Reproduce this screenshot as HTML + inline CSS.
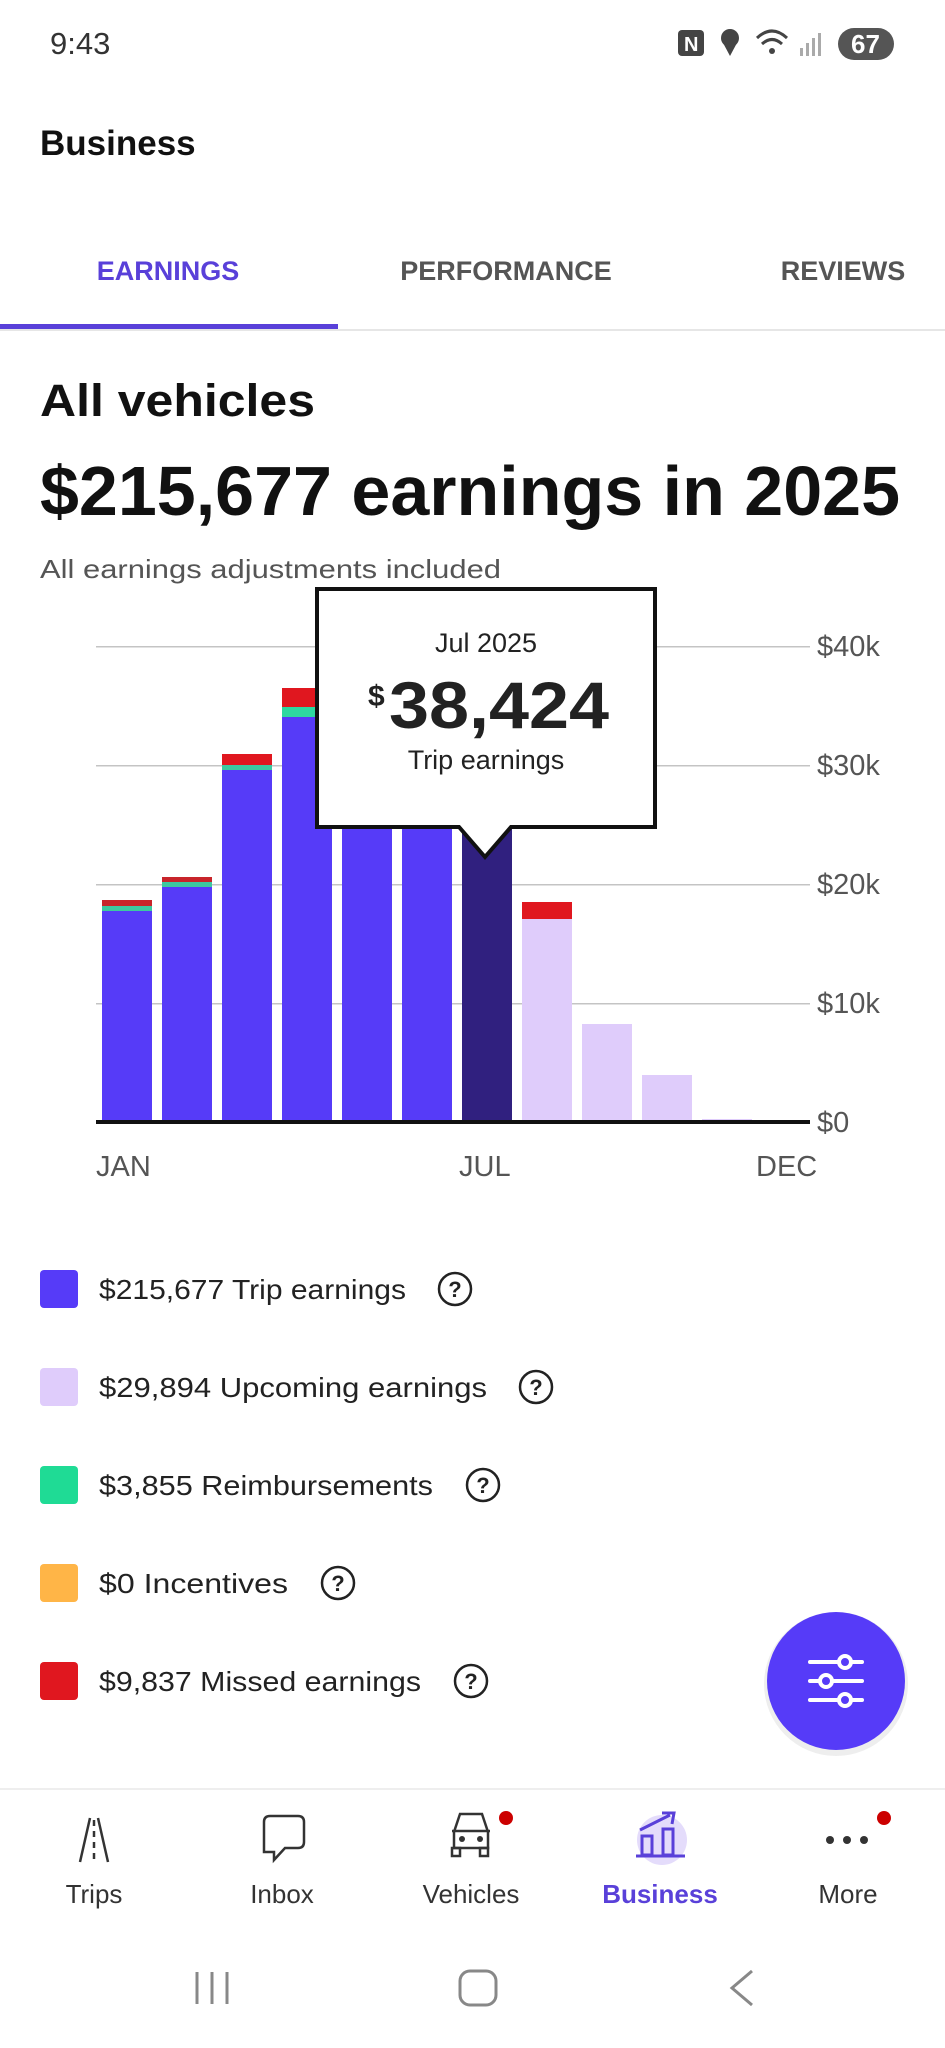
<!DOCTYPE html>
<html><head><meta charset="utf-8"><style>
html,body{margin:0;padding:0;background:#fff}
svg{display:block}
text{font-family:"Liberation Sans",sans-serif}
</style></head><body>
<svg width="945" height="2048" viewBox="0 0 945 2048" xmlns="http://www.w3.org/2000/svg">
<rect width="945" height="2048" fill="#fff"/>
<!-- status bar -->
<text x="50" y="54" font-size="31" fill="#333">9:43</text>
<g fill="#444">
<rect x="678" y="30" width="26" height="26" rx="4"/>
<text x="684" y="51" font-size="20" font-weight="bold" fill="#fff">N</text>
<circle cx="730" cy="38" r="9"/><path d="M722,41 L730,56 L738,41Z"/>
<path d="M757,38 q15,-14 30,0" stroke="#444" stroke-width="3" fill="none"/>
<path d="M762,44 q10,-9 20,0" stroke="#444" stroke-width="3" fill="none"/>
<circle cx="772" cy="51" r="3"/>
<rect x="800" y="48" width="3" height="8" fill="#aaa"/><rect x="806" y="43" width="3" height="13" fill="#aaa"/><rect x="812" y="38" width="3" height="18" fill="#aaa"/><rect x="818" y="33" width="3" height="23" fill="#aaa"/>
<rect x="838" y="28" width="56" height="32" rx="16" fill="#555"/>
</g>
<text x="851" y="53" font-size="26" font-weight="bold" fill="#fff">67</text>
<!-- header -->
<text x="40" y="155" font-size="35" font-weight="bold" fill="#111">Business</text>
<text x="168" y="280" font-size="27" font-weight="bold" fill="#5940D9" text-anchor="middle">EARNINGS</text>
<text x="506" y="280" font-size="27" font-weight="bold" fill="#555" text-anchor="middle">PERFORMANCE</text>
<text x="843" y="280" font-size="27" font-weight="bold" fill="#555" text-anchor="middle">REVIEWS</text>
<rect x="0" y="329" width="945" height="2" fill="#e6e6e6"/>
<rect x="0" y="324" width="338" height="5" fill="#5940D9"/>
<text x="40" y="416" font-size="45" font-weight="bold" fill="#111" textLength="275" lengthAdjust="spacingAndGlyphs">All vehicles</text>
<text x="40" y="515" font-size="70" font-weight="bold" fill="#111" textLength="860" lengthAdjust="spacingAndGlyphs">$215,677 earnings in 2025</text>
<text x="40" y="578" font-size="26" fill="#555" textLength="461" lengthAdjust="spacingAndGlyphs">All earnings adjustments included</text>
<!-- grid -->
<g fill="#c4c4c4">
<rect x="96" y="646" width="714" height="1.5"/>
<rect x="96" y="765" width="714" height="1.5"/>
<rect x="96" y="884" width="714" height="1.5"/>
<rect x="96" y="1003" width="714" height="1.5"/>
</g>
<g font-size="29" fill="#555">
<text x="817" y="656">$40k</text>
<text x="817" y="775">$30k</text>
<text x="817" y="894">$20k</text>
<text x="817" y="1013">$10k</text>
<text x="817" y="1132">$0</text>
</g>
<!-- bars -->
<g>
<rect x="102" y="900" width="50" height="6" fill="#C8242A"/><rect x="102" y="906" width="50" height="5" fill="#3CC9A0"/><rect x="102" y="911" width="50" height="211" fill="#563BF8"/>
<rect x="162" y="877" width="50" height="5" fill="#C8242A"/><rect x="162" y="882" width="50" height="5" fill="#3CC9A0"/><rect x="162" y="887" width="50" height="235" fill="#563BF8"/>
<rect x="222" y="754" width="50" height="11" fill="#E0171F"/><rect x="222" y="765" width="50" height="5" fill="#3CC9A0"/><rect x="222" y="770" width="50" height="352" fill="#563BF8"/>
<rect x="282" y="688" width="50" height="19" fill="#E0171F"/><rect x="282" y="707" width="50" height="10" fill="#2ED8A0"/><rect x="282" y="717" width="50" height="405" fill="#563BF8"/>
<rect x="342" y="690" width="50" height="432" fill="#563BF8"/>
<rect x="402" y="690" width="50" height="432" fill="#563BF8"/>
<rect x="462" y="665" width="50" height="457" fill="#30207F"/>
<rect x="522" y="902" width="50" height="17" fill="#E0171F"/><rect x="522" y="919" width="50" height="203" fill="#DFCCFB"/>
<rect x="582" y="1024" width="50" height="98" fill="#DFCCFB"/>
<rect x="642" y="1075" width="50" height="47" fill="#DFCCFB"/>
<rect x="702" y="1119" width="50" height="3" fill="#DFCCFB"/>
</g>
<rect x="96" y="1120" width="714" height="4" fill="#111"/>
<g font-size="29" fill="#555">
<text x="96" y="1176">JAN</text>
<text x="459" y="1176">JUL</text>
<text x="756" y="1176">DEC</text>
</g>
<!-- tooltip -->
<path d="M317,589 L655,589 L655,827 L511,827 L485,857 L459,827 L317,827 Z" fill="#fff" stroke="#111" stroke-width="4"/>
<text x="486" y="652" font-size="27" fill="#222" text-anchor="middle">Jul 2025</text>
<text x="368" y="706" font-size="30" font-weight="bold" fill="#222">$</text>
<text x="389" y="728" font-size="66" font-weight="bold" fill="#222" textLength="220" lengthAdjust="spacingAndGlyphs">38,424</text>
<text x="486" y="769" font-size="27" fill="#222" text-anchor="middle">Trip earnings</text>
<!-- legend -->
<g font-size="28" fill="#222">
<rect x="40" y="1270" width="38" height="38" rx="4" fill="#563BF8"/>
<text x="99" y="1299" textLength="307" lengthAdjust="spacingAndGlyphs">$215,677 Trip earnings</text>
<rect x="40" y="1368" width="38" height="38" rx="4" fill="#DFCCFB"/>
<text x="99" y="1397" textLength="388" lengthAdjust="spacingAndGlyphs">$29,894 Upcoming earnings</text>
<rect x="40" y="1466" width="38" height="38" rx="4" fill="#1FDB95"/>
<text x="99" y="1495" textLength="334" lengthAdjust="spacingAndGlyphs">$3,855 Reimbursements</text>
<rect x="40" y="1564" width="38" height="38" rx="4" fill="#FFB547"/>
<text x="99" y="1593" textLength="189" lengthAdjust="spacingAndGlyphs">$0 Incentives</text>
<rect x="40" y="1662" width="38" height="38" rx="4" fill="#E0171F"/>
<text x="99" y="1691" textLength="322" lengthAdjust="spacingAndGlyphs">$9,837 Missed earnings</text>
</g>
<g fill="none" stroke="#222" stroke-width="2.5">
<circle cx="455" cy="1289" r="16"/><circle cx="536" cy="1387" r="16"/><circle cx="483" cy="1485" r="16"/><circle cx="338" cy="1583" r="16"/><circle cx="471" cy="1681" r="16"/>
</g>
<g font-size="22" font-weight="bold" fill="#222" text-anchor="middle">
<text x="455" y="1297">?</text><text x="536" y="1395">?</text><text x="483" y="1493">?</text><text x="338" y="1591">?</text><text x="471" y="1689">?</text>
</g>
<!-- FAB -->
<circle cx="836" cy="1684" r="72" fill="#ddd" opacity="0.5"/>
<circle cx="836" cy="1681" r="69" fill="#563BF8"/>
<g stroke="#fff" stroke-width="4" fill="none" stroke-linecap="round">
<line x1="810" y1="1662" x2="862" y2="1662"/><line x1="810" y1="1681" x2="862" y2="1681"/><line x1="810" y1="1700" x2="862" y2="1700"/>
<circle cx="845" cy="1662" r="6" fill="#563BF8"/><circle cx="826" cy="1681" r="6" fill="#563BF8"/><circle cx="845" cy="1700" r="6" fill="#563BF8"/>
</g>
<!-- bottom nav -->
<rect x="0" y="1788" width="945" height="2" fill="#eee"/>
<g stroke="#333" stroke-width="2.5" fill="none">
<line x1="80" y1="1862" x2="90" y2="1818"/><line x1="108" y1="1862" x2="98" y2="1818"/><line x1="94" y1="1820" x2="94" y2="1860" stroke-dasharray="6,5"/>
<path d="M264,1852 L264,1822 Q264,1816 270,1816 L298,1816 Q304,1816 304,1822 L304,1842 Q304,1848 298,1848 L285,1848 L274,1860 L274,1852 Z"/>
<path d="M454,1848 L454,1832 L460,1814 L482,1814 L488,1832 L488,1848 Z"/><line x1="452" y1="1831" x2="490" y2="1831"/>
<rect x="452" y="1848" width="8" height="8"/><rect x="480" y="1848" width="8" height="8"/>
</g>
<circle cx="462" cy="1839" r="3" fill="#333"/><circle cx="480" cy="1839" r="3" fill="#333"/>
<circle cx="506" cy="1818" r="7" fill="#C00"/>
<circle cx="662" cy="1840" r="25" fill="#E4DCFB"/>
<g stroke="#5940D9" stroke-width="3" fill="none">
<line x1="636" y1="1856" x2="685" y2="1856"/><rect x="642" y="1836" width="10" height="19"/><rect x="663" y="1829" width="10" height="26"/>
<path d="M640,1830 L670,1815 M662,1813 L674,1813 L672,1824"/>
</g>
<circle cx="830" cy="1840" r="4" fill="#333"/><circle cx="847" cy="1840" r="4" fill="#333"/><circle cx="864" cy="1840" r="4" fill="#333"/>
<circle cx="884" cy="1818" r="7" fill="#C00"/>
<g font-size="26" fill="#333" text-anchor="middle">
<text x="94" y="1903">Trips</text><text x="282" y="1903">Inbox</text><text x="471" y="1903">Vehicles</text>
<text x="660" y="1903" font-weight="bold" fill="#5940D9">Business</text><text x="848" y="1903">More</text>
</g>
<!-- system nav -->
<g stroke="#888" stroke-width="3" fill="none">
<line x1="197" y1="1972" x2="197" y2="2004"/><line x1="212" y1="1972" x2="212" y2="2004"/><line x1="227" y1="1972" x2="227" y2="2004"/>
<rect x="460" y="1971" width="36" height="34" rx="10"/>
<path d="M752,1971 L732,1988 L752,2005"/>
</g>
</svg>
</body></html>
